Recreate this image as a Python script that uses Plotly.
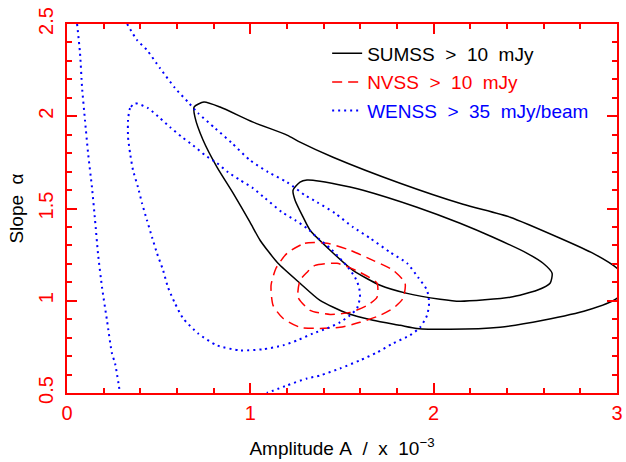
import plotly.graph_objects as go

# ---- data (x = amplitude A / 1e-3, y = slope alpha) ----
sumss_outer_x = [0.693, 0.747, 0.835, 1.015, 1.200, 1.271, 1.451, 1.817, 2.160, 2.417, 2.690, 2.870,
                 3.000, 3.060, 3.000, 2.837, 2.597, 2.362, 2.089, 1.909, 1.817, 1.669, 1.528, 1.380,
                 1.271, 1.151, 1.053, 0.998, 0.906, 0.818, 0.742, 0.698, 0.693]
sumss_outer_y = [2.050, 2.077, 2.050, 1.968, 1.898, 1.860, 1.778, 1.637, 1.523, 1.453, 1.339, 1.257,
                 1.176, 1.100, 1.013, 0.948, 0.894, 0.856, 0.845, 0.850, 0.867, 0.894, 0.932, 1.002,
                 1.095, 1.203, 1.328, 1.426, 1.583, 1.724, 1.871, 1.995, 2.050]

sumss_inner_x = [1.233, 1.271, 1.309, 1.380, 1.544, 1.615, 1.909, 2.144, 2.324, 2.510, 2.597, 2.646,
                 2.635, 2.564, 2.417, 2.144, 2.035, 1.855, 1.708, 1.560, 1.435, 1.326, 1.288, 1.244, 1.233]
sumss_inner_y = [1.599, 1.643, 1.654, 1.648, 1.616, 1.599, 1.507, 1.420, 1.344, 1.257, 1.203, 1.149,
                 1.095, 1.057, 1.019, 0.997, 1.008, 1.040, 1.084, 1.165, 1.274, 1.382, 1.453, 1.545, 1.599]

nvss_outer_x = [1.200, 1.298, 1.418, 1.544, 1.669, 1.779, 1.844, 1.833, 1.779, 1.708, 1.598, 1.489,
                1.380, 1.271, 1.178, 1.124, 1.113, 1.140, 1.200]
nvss_outer_y = [1.257, 1.312, 1.312, 1.274, 1.219, 1.165, 1.095, 1.013, 0.959, 0.921, 0.883, 0.856,
                0.850, 0.856, 0.905, 0.975, 1.084, 1.176, 1.257]

nvss_inner_x = [1.309, 1.353, 1.473, 1.598, 1.691, 1.691, 1.637, 1.544, 1.435, 1.326, 1.260, 1.271, 1.309]
nvss_inner_y = [1.154, 1.192, 1.203, 1.154, 1.095, 1.019, 0.975, 0.937, 0.926, 0.948, 1.019, 1.111, 1.154]

wenss_left_x = [0.055, 0.071, 0.082, 0.098, 0.115, 0.136, 0.153, 0.169, 0.191, 0.218, 0.245, 0.262, 0.289]
wenss_left_y = [2.500, 2.343, 2.158, 1.979, 1.800, 1.616, 1.437, 1.257, 1.073, 0.894, 0.715, 0.661, 0.500]

wenss_inner_x = [0.371, 0.344, 0.333, 0.333, 0.344, 0.360, 0.387, 0.409, 0.436, 0.464, 0.491, 0.524,
                 0.551, 0.589, 0.633, 0.715, 0.818, 0.944, 1.069, 1.178, 1.255, 1.342, 1.418, 1.489,
                 1.544, 1.582, 1.598, 1.593, 1.571, 1.533, 1.489, 1.435, 1.369, 1.309, 1.244, 1.173,
                 1.080, 1.015, 0.944, 0.878, 0.818, 0.753, 0.687, 0.627, 0.562, 0.507, 0.442, 0.371]
wenss_inner_y = [2.071, 2.044, 1.979, 1.887, 1.800, 1.708, 1.616, 1.529, 1.437, 1.344, 1.257, 1.165,
                 1.073, 0.986, 0.905, 0.823, 0.758, 0.731, 0.737, 0.758, 0.785, 0.823, 0.850, 0.883,
                 0.921, 0.959, 1.019, 1.073, 1.127, 1.181, 1.230, 1.285, 1.339, 1.393, 1.437, 1.480,
                 1.556, 1.610, 1.654, 1.697, 1.746, 1.789, 1.843, 1.887, 1.941, 1.990, 2.044, 2.071]

wenss_outer_x = [0.328, 0.382, 0.436, 0.507, 0.589, 0.660, 0.715, 0.807, 0.900, 0.998, 1.097, 1.200,
                 1.298, 1.364, 1.462, 1.560, 1.653, 1.762, 1.855, 1.915, 1.964, 1.975, 1.964, 1.926,
                 1.871, 1.779, 1.691, 1.598, 1.489, 1.380, 1.309, 1.200, 1.090]
wenss_outer_y = [2.500, 2.413, 2.359, 2.261, 2.153, 2.077, 2.017, 1.936, 1.854, 1.762, 1.697, 1.643,
                 1.572, 1.534, 1.474, 1.399, 1.339, 1.263, 1.203, 1.127, 1.057, 0.986, 0.921, 0.856,
                 0.813, 0.769, 0.720, 0.677, 0.633, 0.595, 0.579, 0.541, 0.500]

NB = "\u00a0"
names = {
    "sumss": f"SUMSS{NB}{NB}&gt;{NB}{NB}10{NB}{NB}mJy",
    "nvss": f"<span style='color:#ff0000'>NVSS{NB}{NB}&gt;{NB}{NB}10{NB}{NB}mJy</span>",
    "wenss": f"<span style='color:#0000ff'>WENSS{NB}{NB}&gt;{NB}{NB}35{NB}{NB}mJy/beam</span>",
}
styles = {
    "sumss": dict(color="#000000", width=1.5, dash="solid"),
    "nvss": dict(color="#ff0000", width=1.5, dash="10px,6px"),
    "wenss": dict(color="#0000ff", width=2, dash="2px,4px"),
}

curves = [
    ("sumss", sumss_outer_x, sumss_outer_y, True),
    ("sumss", sumss_inner_x, sumss_inner_y, False),
    ("nvss", nvss_outer_x, nvss_outer_y, True),
    ("nvss", nvss_inner_x, nvss_inner_y, False),
    ("wenss", wenss_left_x, wenss_left_y, True),
    ("wenss", wenss_inner_x, wenss_inner_y, False),
    ("wenss", wenss_outer_x, wenss_outer_y, False),
]

fig = go.Figure()
for key, xs, ys, show in curves:
    fig.add_trace(go.Scatter(
        x=xs, y=ys, mode="lines",
        line=dict(shape="spline", smoothing=0.6, **styles[key]),
        name=names[key], legendgroup=key, showlegend=show,
    ))

axis_common = dict(
    showline=True, linecolor="#ff0000", linewidth=2, mirror="allticks",
    ticks="inside", tickcolor="#ff0000", tickwidth=1.5, ticklen=10,
    showgrid=False, zeroline=False, automargin=False,
    tickfont=dict(family="Liberation Sans", size=20, color="#ff0000"),
)

fig.update_layout(
    width=626, height=462,
    margin=dict(l=67, r=9, t=24, b=69),
    paper_bgcolor="white", plot_bgcolor="white",
    font=dict(family="Liberation Sans", color="black"),
    xaxis=dict(range=[0, 3], dtick=1, tick0=0,
               minor=dict(dtick=0.2, ticklen=5, ticks="inside", tickcolor="#ff0000", tickwidth=1.5),
               ticklabelstandoff=1,
               title=dict(text=f"Amplitude{NB}A{NB}{NB}/{NB}{NB}x{NB}{NB}10<sup>\u22123</sup>",
                          font=dict(size=19, color="black"), standoff=19),
               **axis_common),
    yaxis=dict(range=[0.5, 2.5], dtick=0.5, tick0=0.5, tickangle=-90,
               minor=dict(dtick=0.1, ticklen=5, ticks="inside", tickcolor="#ff0000", tickwidth=1.5),
               ticklabelstandoff=4,
               title=dict(text=f"Slope{NB}{NB}\u03b1", font=dict(size=19, color="black"), standoff=6),
               **axis_common),
    legend=dict(x=0.473, y=0.972, xanchor="left", yanchor="top",
                bgcolor="rgba(0,0,0,0)", font=dict(family="Liberation Sans", size=19, color="black"),
                traceorder="grouped", tracegroupgap=1, itemwidth=30),
    showlegend=True,
)

fig.write_html("out.html", config={"displayModeBar": False},
               post_script="document.body.style.margin='0';")
